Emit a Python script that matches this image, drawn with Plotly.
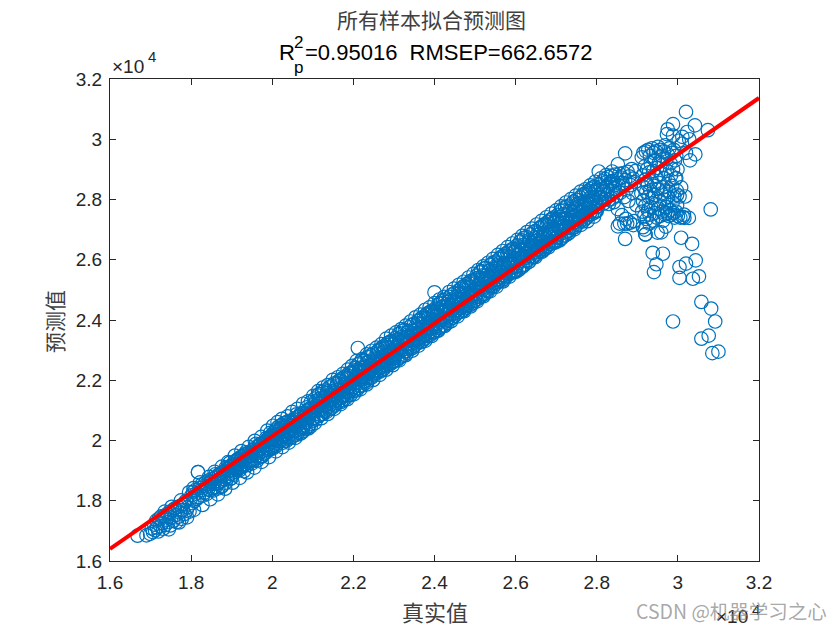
import plotly.graph_objects as go

true_a = [16680,16900,16990,17030,17060,17090,17110,17140,17160,17190,17210,17240,17260,17290,17310,17340,17360,17390,17410,17440,17460,17490,17510,17540,17560,17590,17610,17640,17670,17690,17720,17740,17770,17790,17820,17840,17870,17890,17920,17960]
pred_a = [16840,16850,16900,17080,16960,17210,17020,17340,17110,16980,17410,17150,17480,17260,17070,17500,17190,17370,17560,17290,17620,17180,17450,17680,17330,17740,17520,17290,17800,17470,17610,17830,17400,17700,17900,17560,17990,17680,17790,17640]
true_b = [18010,18030,18050,18080,18100,18120,18140,18170,18190,18210,18240,18260,18290,18310,18330,18350,18380,18400,18420,18440,18470,18490,18510,18530,18560,18580,18600,18630,18650,18670,18690,18720,18740,18760,18790,18810,18830,18850,18880,18900,18920,18940,18960,18980,18995]
pred_b = [18180,17920,18290,17990,18350,18240,18060,18950,18130,18420,18350,18540,18170,18490,18270,18600,18220,18540,18380,18680,18350,18640,18720,18420,18560,18760,18450,18810,18570,18410,18870,18630,18900,18500,18950,18720,19000,18600,19040,18810,18980,19120,18720,19160,18900]
true_c = [19010,19030,19040,19060,19080,19090,19110,19130,19150,19160,19180,19200,19220,19230,19250,19270,19290,19300,19320,19340,19360,19370,19390,19410,19430,19440,19460,19480,19500,19510,19530,19550,19570,19580,19600,19620,19640,19650,19670,19690,19710,19720,19740,19760,19780,19790,19810,19830,19850,19860,19880,19900,19920,19930,19950,19960,19970,19980,19990,20000]
pred_c = [19200,18860,19080,19290,18960,19220,19340,19010,19170,19390,19080,19320,19450,19110,19280,19490,19150,19380,19530,19220,19420,19560,19180,19470,19610,19290,19530,19340,19670,19250,19580,19710,19400,19620,19780,19330,19680,19510,19820,19440,19750,19890,19490,19650,19920,19560,19810,19980,19600,19760,20040,19680,19880,20100,19720,19940,20150,19780,20030,20190]
true_d = [20010,20020,20040,20050,20060,20080,20090,20100,20120,20130,20150,20160,20180,20190,20200,20220,20230,20250,20260,20280,20290,20300,20320,20330,20350,20360,20380,20390,20400,20420,20430,20450,20460,20480,20490,20500,20520,20530,20550,20560,20580,20590,20600,20620,20630,20650,20660,20680,20690,20700,20720,20730,20750,20760,20780,20790,20800,20820,20830,20850,20860,20880,20890,20900,20920,20930,20950,20960,20980,20990]
pred_d = [19730,20120,19860,20280,20010,20340,19810,20170,20410,19900,20060,20470,20230,19980,20370,20100,20520,19920,20300,20140,20580,20040,20440,20210,19990,20530,20340,20110,20640,20280,20070,20490,20650,20230,20120,20580,20400,20690,20180,20730,20320,20610,20190,20480,20780,20270,20560,20840,20380,20230,20660,20880,20420,20310,20740,20930,20510,20380,20830,20620,20990,20450,20760,21040,20540,20880,20470,21080,20700,20930]
true_e = [21000,21020,21030,21050,21060,21070,21090,21100,21120,21130,21140,21160,21170,21190,21200,21220,21230,21240,21260,21270,21290,21300,21310,21330,21340,21360,21370,21390,21400,21410,21430,21440,21460,21470,21480,21500,21510,21530,21540,21560,21570,21580,21600,21610,21630,21640,21650,21670,21680,21700,21710,21720,21740,21750,21770,21780,21790,21810,21820,21840,21850,21860,21880,21890,21910,21920,21930,21950,21960,21980]
pred_e = [20660,21180,20860,21390,20980,21310,20700,21130,21500,20800,21020,21540,21260,20850,21400,21130,21620,20880,21310,21040,21660,21000,21450,21190,20950,21570,21340,21120,21760,21250,21060,21510,21810,21200,21090,21640,21390,21900,21170,21760,21320,21680,21240,21500,21970,21300,21560,21990,21410,21280,21680,22060,21440,21340,21780,22100,21520,21400,22050,21640,22170,21490,21780,22230,21590,21890,21510,22260,21700,21950]
true_f = [22000,22010,22030,22040,22050,22070,22080,22090,22110,22120,22130,22150,22160,22170,22190,22200,22210,22230,22240,22250,22270,22280,22290,22310,22320,22330,22350,22360,22370,22390,22400,22410,22430,22440,22450,22470,22480,22490,22510,22520,22530,22550,22560,22570,22590,22600,22610,22630,22640,22650,22670,22680,22690,22710,22720,22730,22750,22760,22770,22790,22800,22810,22830,22840,22850,22870,22880,22890,22910,22920,22930,22950,22960,22970,22990]
pred_f = [21640,22280,21780,22400,21910,22340,21660,22150,22530,21740,22020,22560,22290,21810,22420,22110,22650,21830,22300,22050,22660,21960,22440,22190,21920,22580,22330,22110,22760,22240,22060,22500,22830,22200,22090,22640,22380,22880,22170,22750,22320,22690,22240,22500,22960,22290,22560,23000,22410,22280,22680,23060,22440,22330,22780,23110,22520,22390,23050,22640,23170,22490,22780,23230,22590,22890,22510,23270,22700,22950,23300,22570,22840,22610,23200]
true_g = [23000,23020,23030,23040,23060,23070,23080,23100,23110,23120,23140,23150,23160,23180,23190,23200,23220,23230,23240,23260,23270,23280,23300,23310,23320,23340,23350,23360,23380,23390,23400,23420,23430,23440,23460,23470,23480,23500,23510,23520,23540,23550,23560,23580,23590,23600,23620,23630,23640,23660,23670,23680,23700,23710,23720,23740,23750,23760,23780,23790,23800,23820,23830,23840,23860,23870,23880,23900,23910,23920,23940,23950,23960,23980,23990]
pred_g = [22640,23280,22790,23410,22880,23350,22670,23160,23530,22730,23010,23560,23280,22790,23430,23100,23650,22820,23300,23040,23670,22950,23440,23180,22900,23590,23320,23090,23760,23230,23040,23510,23830,23190,23070,23640,23370,23880,23150,23750,23310,23690,23220,23490,23960,23270,23550,24010,23400,23260,23680,24070,23430,23310,23770,24120,23510,23380,24060,23630,24180,23480,23770,24230,23570,23880,23490,24280,23690,23950,24310,23560,23830,23610,24210]
true_h = [24000,24010,24030,24040,24050,24070,24080,24090,24110,24120,24130,24150,24160,24170,24190,24200,24210,24230,24240,24250,24270,24280,24290,24310,24320,24330,24350,24360,24370,24390,24400,24410,24430,24440,24450,24470,24480,24490,24510,24520,24530,24550,24560,24570,24590,24600,24610,24630,24640,24650,24670,24680,24690,24710,24720,24730,24750,24760,24770,24790,24800,24810,24830,24840,24850,24870,24880,24890,24910,24920,24930,24950,24960,24970,24990]
pred_h = [23620,24290,23780,24410,23890,24360,23660,24160,24540,23730,24010,24570,24290,23780,24440,24100,24660,23820,24310,24040,24680,23950,24450,24180,23900,24600,24330,24090,24770,24230,24040,24520,24840,24190,24070,24650,24380,24890,24150,24760,24310,24700,24220,24500,24970,24270,24560,25020,24400,24270,24690,25080,24440,24320,24780,25130,24520,24390,25070,24640,25190,24490,24780,25240,24580,24890,24500,25290,24700,24960,25320,24560,24840,24620,25220]
true_i = [25000,25020,25030,25040,25060,25070,25080,25100,25110,25120,25140,25150,25160,25180,25190,25200,25220,25230,25240,25260,25270,25280,25300,25310,25320,25340,25350,25360,25380,25390,25400,25420,25430,25440,25460,25470,25480,25500,25510,25520,25540,25550,25560,25580,25590,25600,25620,25630,25640,25660,25670,25680,25700,25710,25720,25740,25750,25760,25780,25790,25800,25820,25830,25840,25860,25870,25880,25900,25910,25920,25940,25950,25960,25980,25990]
pred_i = [24660,25340,24800,25470,24900,25400,24700,25200,25580,24760,25040,25620,25320,24830,25480,25150,25710,24860,25350,25080,25730,25000,25500,25220,24950,25640,25370,25130,25820,25280,25080,25570,25890,25230,25110,25700,25420,25940,25190,25800,25360,25740,25260,25540,26020,25310,25600,26080,25440,25300,25730,26130,25480,25360,25820,26180,25560,25420,26120,25680,26240,25530,25820,26290,25610,25930,25540,26340,25740,26000,26370,25600,25880,25650,26270]
true_j = [26000,26010,26030,26040,26050,26070,26080,26090,26110,26120,26130,26150,26160,26170,26190,26200,26210,26230,26240,26250,26270,26280,26290,26310,26320,26330,26350,26360,26370,26390,26400,26410,26430,26440,26450,26470,26480,26490,26510,26520,26530,26550,26560,26570,26590,26600,26610,26630,26640,26650,26670,26680,26690,26710,26720,26730,26750,26760,26770,26790,26800,26810,26830,26840,26850,26870,26880,26890,26910,26920,26930,26950,26960,26970,26990]
pred_j = [25620,26340,25790,26480,25880,26410,25670,26200,26600,25740,26020,26640,26330,25810,26490,26140,26730,25840,26360,26070,26750,25970,26500,26220,25930,26650,26380,26120,26840,26280,26070,26570,26910,26230,26100,26710,26430,26960,26180,26820,26360,26750,26250,26540,27040,26300,26600,27100,26440,26290,26730,27150,26480,26350,26820,27200,26550,26410,27140,26680,27260,26520,26820,27310,26610,26940,26530,27360,26740,27010,27400,26580,26880,26630,27290]
true_k = [27000,27020,27030,27040,27060,27070,27080,27100,27110,27120,27140,27150,27160,27180,27190,27200,27220,27230,27240,27260,27270,27280,27300,27310,27320,27340,27350,27360,27380,27390,27400,27420,27430,27440,27460,27470,27480,27500,27510,27520,27540,27550,27560,27580,27590,27600,27620,27630,27640,27660,27670,27680,27700,27710,27720,27740,27750,27760,27780,27790,27800,27820,27830,27840,27860,27870,27880,27900,27910,27920,27940,27950,27960,27980,27990]
pred_k = [26600,27350,26760,27490,26850,27420,26640,27200,27620,26700,27000,27660,27340,26780,27510,27130,27750,26810,27370,27050,27770,26940,27510,27210,26900,27670,27390,27100,27860,27270,27050,27590,27930,27220,27080,27730,27440,27990,27160,27840,27350,27770,27240,27560,28070,27290,27620,28130,27450,27270,27750,28180,27490,27340,27840,28230,27560,27400,28160,27700,28290,27510,27830,28340,27600,27960,27520,28390,27750,28040,28430,27570,27900,27620,28310]
true_l = [28000,28020,28040,28060,28080,28100,28120,28140,28160,28180,28200,28220,28240,28260,28280,28300,28320,28340,28360,28380,28400,28420,28440,28460,28480,28500,28520,28540,28560,28580,28600,28620,28640,28660,28680,28700,28720,28740,28760,28780,28800,28820,28840,28860,28880,28900,28920,28940,28960,28980]
pred_l = [27620,28360,27780,28500,27930,28430,28050,28600,27860,28280,28680,28010,28440,28160,28740,27850,28530,28260,28790,28020,28620,27910,28360,28830,28130,28680,27680,28470,28850,28220,28730,27480,28550,28880,28080,28640,27360,28330,28920,27950,28770,27230,28480,29010,28210,28690,27280,28580,28950,27810]
true_fan = [29100,29110,29120,29130,29140,29150,29160,29170,29180,29190,29200,29210,29220,29230,29240,29250,29260,29270,29280,29290,29300,29310,29320,29330,29340,29350,29360,29370,29380,29390,29400,29410,29420,29430,29440,29450,29460,29470,29480,29490,29500,29510,29520,29530,29540,29550,29560,29570,29580,29590,29600,29610,29620,29630,29640,29650,29660,29670,29680,29690,29700,29710,29720,29730,29740,29750,29760,29770,29780,29790,29800,29810,29820,29830,29840,29850,29860,29870,29880,29890,29900,29910,29920,29930,29940,29950,29960,29970,29980,29990,30000,30020,30040,30060,30080,30100,30120,30150,30180,30200]
pred_fan = [28200,29400,27600,28800,27950,29550,28400,27450,29100,28650,27800,29600,28250,27350,29000,28500,27650,29650,28100,28900,27500,29450,28300,29200,27750,28600,29700,28050,27300,28950,29550,28450,27550,29300,28150,27850,29600,28750,27400,29050,28350,29750,27700,28550,29250,27950,27450,29650,28850,28200,29450,27600,29150,28400,27300,29600,28000,28700,27500,29800,28300,27750,29350,28950,27550,29500,28100,28600,27450,29700,28250,27650,29200,28800,27500,29550,28450,27900,29000,27550,29650,28100,27400,29300,28700,27600,29450,28300,27800,29000,27450,29950,28100,27400,28400,29850,27420,27500,28100,29550]
true_out = [18170,22110,24000,28050,28520,28700,29200,30200,29880,30420,30740,29750,29730,30230,30110,30280,30430,30300,29880,29960,29980,30810,30080,30350,29380,29630,29470,29410,30440,30040,30200,30040,30520,30370,30580,30820,29880,30920,30760,30580,30850,31000,28520,28570,28680,29200,29140,29180,29590,29500,29700,28750,28900,29300,30160,30270]
pred_out = [18950,23070,24920,28930,29170,26690,26840,30910,30500,30460,30300,30330,30170,30240,30080,30000,29500,29300,30120,28710,28160,27670,26730,26530,26230,26200,25850,25590,25980,25760,25870,25400,25450,25370,24600,24380,23950,23950,23480,23380,22900,22950,27110,27200,27200,26840,27080,27000,26910,26900,27100,27200,27150,27200,27390,27390]
true_upper = [17350,17520,17750,17950,18060,18220,18440,18580,18760,18910,19080,19240,19420,19570,19730,19880,20020,20130,20240,20380,20490,20620,20760,20880,21010,21130,21250,21370,21490,21620,21740,21860,21970,22080,22210,22330,22450,22570,22690,22810,22930,23050,23180,23290,23410,23530,23650,23770,23880,24000,24120,24240,24360,24480,24600,24720,24840,24960,25080,25200,25320,25440,25560,25680,25800,25920,26040,26160,26280,26400,26520,26640,26760,26880,27000,27120,27240,27360,27480,27600,27720,27840,27960,28100,28230,28380,28700]
pred_upper = [17640,17800,18010,18280,18420,18610,18790,18960,19130,19280,19500,19650,19790,19990,20120,20330,20490,20610,20720,20800,20950,21050,21220,21300,21480,21640,21760,21840,22010,22100,22210,22350,22480,22640,22700,22860,22980,23080,23200,23380,23480,23590,23700,23810,23950,24090,24180,24340,24420,24560,24680,24770,24930,25040,25170,25270,25410,25530,25660,25780,25900,26030,26160,26290,26420,26540,26660,26790,26920,27030,27170,27290,27410,27530,27640,27770,27900,28010,28130,28260,28340,28470,28590,28700,28810,28930,29530]
true_lower = [17450,17700,17900,18070,18280,18470,18660,18840,19020,19200,19380,19560,19740,19920,20090,20250,20410,20570,20730,20890,21050,21210,21370,21530,21690,21850,22010,22170,22330,22490,22650,22810,22970,23130,23290,23450,23610,23770,23930,24090,24250,24410,24570,24730,24890,25050,25210,25370,25530,25690,25850,26010,26170,26330,26490,26650,26810,26970,27130,27290,27450,27610,27770,27930]
pred_lower = [17050,17280,17450,17700,17860,18050,18210,18400,18600,18760,18940,19100,19290,19450,19640,19780,19930,20090,20260,20400,20580,20740,20880,21050,21210,21370,21530,21700,21860,22010,22180,22350,22500,22660,22830,22980,23150,23310,23470,23640,23800,23960,24120,24290,24450,24620,24790,24950,25110,25280,25440,25600,25770,25930,26090,26260,26410,26570,26710,26860,27010,27160,27280,27430]
true_core = [18500,18550,18600,18650,18700,18750,18800,18850,18900,18950,19000,19050,19100,19150,19200,19250,19300,19350,19400,19450,19500,19550,19600,19650,19700,19750,19800,19850,19900,19950,20000,20050,20100,20150,20200,20250,20300,20350,20400,20450,20500,20550,20600,20650,20700,20750,20800,20850,20900,20950,21000,21050,21100,21150,21200,21250,21300,21350,21400,21450,21500,21550,21600,21650,21700,21750,21800,21850,21900,21950,22000,22050,22100,22150,22200,22250,22300,22350,22400,22450,22500,22550,22600,22650,22700,22750,22800,22850,22900,22950,23000,23050,23100,23150,23200,23250,23300,23350,23400,23450,23500,23550,23600,23650,23700,23750,23800,23850,23900,23950,24000,24050,24100,24150,24200,24250,24300,24350,24400,24450,24500,24550,24600,24650,24700,24750,24800,24850,24900,24950,25000,25050,25100,25150,25200,25250,25300,25350,25400,25450,25500,25550,25600,25650,25700,25750,25800,25850,25900,25950,26000,26050,26100,26150,26200,26250,26300,26350,26400,26450,26500,26550,26600,26650,26700,26750,26800,26850,26900,26950,27000,27050,27100,27150,27200,27250,27300,27350,27400,27450,27500,27550,27600,27650,27700,27750,27800,27850,27900,27950,28000,28050,28100,28150,28200,28250,28300,28350,28400,28450]
pred_core = [18620,18340,18880,18590,18890,18460,18840,19090,18750,19260,18750,19140,19070,19360,19020,19400,18980,19610,19300,19470,19630,19350,19890,19580,19880,19470,19850,20080,19740,20250,19760,20150,20060,20350,20030,20410,19990,20600,20290,20480,20610,20330,20870,20600,20900,20450,20830,21100,20760,21270,20740,21130,21080,21370,21010,21390,20970,21620,21310,21460,21630,21350,21890,21580,21880,21470,21850,22080,21740,22250,21760,22150,22060,22350,22030,22410,21990,22600,22290,22480,22610,22330,22870,22600,22900,22450,22830,23100,22760,23270,22740,23130,23080,23370,23010,23390,22970,23620,23310,23460,23630,23350,23890,23580,23880,23470,23850,24080,23740,24250,23760,24150,24060,24350,24030,24410,23990,24600,24290,24480,24610,24330,24870,24600,24900,24450,24830,25100,24760,25270,24740,25130,25080,25370,25010,25390,24970,25620,25310,25460,25630,25350,25890,25580,25880,25470,25850,26080,25740,26250,25760,26150,26060,26350,26030,26410,25990,26600,26290,26480,26610,26330,26870,26600,26900,26450,26830,27100,26760,27270,26740,27130,27080,27370,27010,27390,26970,27620,27310,27460,27630,27350,27890,27580,27880,27470,27850,28080,27740,28250,27760,28150,28060,28350,28030,28410,27990,28600,28290,28480]

line_x = [16000, 32000]
line_y = [16400, 31370]
tick_values = [16000,18000,20000,22000,24000,26000,28000,30000,32000]
tick_labels = ["1.6","1.8","2","2.2","2.4","2.6","2.8","3","3.2"]
title_cn = "所有样本拟合预测图"
x_label = "真实值"
y_label = "预测值"
DARK = "#262626"
CJK = "Noto Sans CJK SC"
ARIAL = "Liberation Sans"

true_values = true_a+true_b+true_c+true_d+true_e+true_f+true_g+true_h+true_i+true_j+true_k+true_l+true_fan+true_out+true_upper+true_lower+true_core
predicted_values = pred_a+pred_b+pred_c+pred_d+pred_e+pred_f+pred_g+pred_h+pred_i+pred_j+pred_k+pred_l+pred_fan+pred_out+pred_upper+pred_lower+pred_core

fig = go.Figure()
fig.add_trace(go.Scatter(x=true_values, y=predicted_values, mode="markers",
    marker=dict(symbol="circle-open", size=13.5, color="#0072BD", line=dict(width=1.2, color="#0072BD"))))
fig.add_trace(go.Scatter(x=line_x, y=line_y, mode="lines", line=dict(color="#FF0000", width=4)))

axis = dict(range=[16000,32000], tickvals=tick_values, ticktext=tick_labels, ticks="inside", ticklen=6,
            tickwidth=1, tickcolor=DARK, linecolor=DARK, linewidth=1, mirror="allticks", showline=True,
            showgrid=False, zeroline=False, tickfont=dict(family=ARIAL, size=19, color=DARK))
fig.update_xaxes(ticklabelstandoff=4, **axis)
fig.update_yaxes(ticklabelstandoff=3, **axis)

def note(text, x, y, size, color=DARK, family=ARIAL, **kw):
    return dict(text=text, x=x, y=y, xref="paper", yref="paper", xanchor=kw.pop("xanchor","left"), yanchor="middle",
                showarrow=False, font=dict(family=family, size=size, color=color), **kw)

W, H = 649, 482
def px(p): return (p-110)/W
def py(p): return (561-p)/H
fig.update_layout(
    width=832, height=622, margin=dict(l=102, r=81, t=71, b=69, pad=0),
    paper_bgcolor="white", plot_bgcolor="white", showlegend=False,
    annotations=[
        note(title_cn, px(431), py(19), 21, xanchor="center", family=CJK, color="#404040"),
        note("R", px(277), py(53), 22, color="black"),
        note("2", px(292), py(42), 17, color="black"),
        note("p", px(292), py(67), 17, color="black"),
        note("=0.95016  RMSEP=662.6572", px(303), py(53), 22, color="black"),
        note("×10", px(110), py(66), 19),
        note("4", px(146), py(57), 15),
        note("×10", px(714), py(616), 19),
        note("4", px(750), py(609), 15),
        note(x_label, px(435), py(611), 22, xanchor="center", family=CJK, color="#404040"),
        note(y_label, px(54), py(322), 21, xanchor="center", family=CJK, textangle=-90, color="#404040"),
        note("CSDN @机器学习之心", px(634), py(610), 19.5, color="rgba(130,130,130,0.7)", family=CJK),
    ])
fig.write_html("out.html")
